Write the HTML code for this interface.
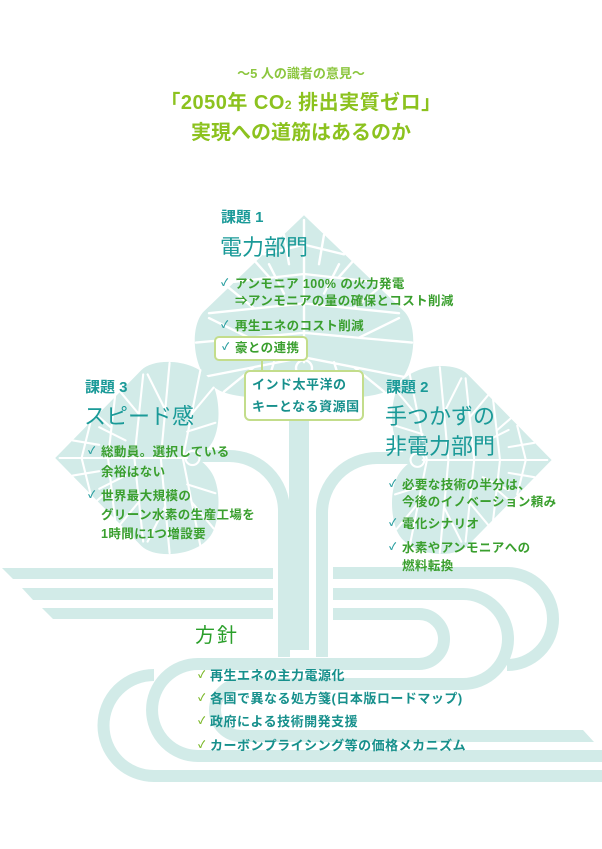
<!DOCTYPE html>
<html><head><meta charset="utf-8"><style>
body{margin:0;width:602px;height:849px;background:#fff;position:relative;overflow:hidden;font-family:"Liberation Sans","Noto Sans CJK JP",sans-serif}
.t{position:absolute;white-space:nowrap;line-height:1}
.g{color:#3a9f2e;font-size:12.5px;font-weight:bold;letter-spacing:0.4px}
.k{color:#1a9a98;font-size:15px;font-weight:bold}
.h{color:#1a9a98;font-size:22px}
.c{color:#2a9fa0;font-size:10px;font-weight:bold}
.p{color:#17908c;font-size:13px;font-weight:bold;letter-spacing:0.5px}
.y{color:#7cb82a;font-size:10px;font-weight:bold}
</style></head><body>
<svg width="602" height="849" style="position:absolute;left:0;top:0">
<defs>
<g id="leaf">
<path d="M0,-160 L100,-62 C116,-46 112,8 82,20 C62,28 30,28 14,16 C6,10 2,4 0,0 C-2,4 -6,10 -14,16 C-30,28 -62,28 -82,20 C-112,8 -116,-46 -100,-62 Z" fill="#d2ebe8"/>
<g stroke="#fff" stroke-width="2.4" fill="none" stroke-linecap="round">
<path d="M0,-10 L0,-155"/>
<path d="M0,-130 L-40,-120 M0,-130 L40,-120"/>
<path d="M0,-100 L-70,-92 M0,-100 L70,-92 M-35,-97 L-55,-120 M35,-97 L55,-120"/>
<path d="M0,-70 L-95,-60 M0,-70 L95,-60 M-50,-65 L-80,-90 M50,-65 L80,-90"/>
<path d="M0,-40 L-108,-30 M0,-40 L108,-30 M-55,-35 L-95,-55 M55,-35 L95,-55"/>
<path d="M0,-15 L-100,5 M0,-15 L100,5 M-50,-5 L-80,20 M50,-5 L80,20 M-30,-10 L-40,22 M30,-10 L40,22"/>
<path d="M-15,-110 L-20,-140 M15,-110 L20,-140 M-20,-80 L-35,-110 M20,-80 L35,-110"/>
<circle cx="0" cy="-4" r="8"/>
</g>
</g>
</defs>
<!-- trunk and branches -->
<rect x="289" y="370" width="20" height="280" fill="#d2ebe8"/>
<g stroke="#d2ebe8" stroke-width="12" fill="none">
<path d="M195,456 L229,456 A55,55 0 0 1 284,511 L284,657"/>
<path d="M418,458 L377,458 A55,55 0 0 0 322,513 L322,657"/>
</g>
<use href="#leaf" transform="translate(304,372) scale(1,0.98)"/>
<use href="#leaf" transform="translate(196,458) rotate(-90) scale(0.88)"/>
<use href="#leaf" transform="translate(414,460) rotate(90) scale(0.86)"/>
<!-- left bands -->
<g fill="#d2ebe8">
<polygon points="2,568 273,568 273,579 13,579"/>
<polygon points="22,588 273,588 273,600 33,600"/>
<polygon points="42,608 273,608 273,619 53,619"/>
<polygon points="583,730 583,742 594,742"/>
</g>
<g stroke="#d2ebe8" stroke-width="12" fill="none">
<path d="M333,573 L507,573 A46,46 0 0 1 507,665"/>
<path d="M154,675 A50.5,50.5 0 0 0 154,776 L602,776"/>
<path d="M333,614 L419,614 A25,25 0 0 1 419,664 L198,664 A46,46 0 0 0 198,756 L602,756"/>
<path d="M333,594 L463,594 A45,45 0 0 1 463,684 L241,684 A26,26 0 0 0 241,736 L583,736"/>
</g>
<!-- boxes -->
<line x1="262" y1="360" x2="262" y2="371" stroke="#c3dd8b" stroke-width="2"/>
<rect x="215" y="337" width="92" height="23" rx="4" fill="#fff" stroke="#c3dd8b" stroke-width="2"/>
<rect x="245" y="371" width="118" height="49" rx="5" fill="#fff" stroke="#c3dd8b" stroke-width="2"/>
</svg>

<div class="t" style="left:0;width:602px;text-align:center;top:67px;font-size:13px;font-weight:bold;color:#8cc63f">～5 人の識者の意見～</div>
<div class="t" style="left:0;width:602px;text-align:center;top:93px;font-size:20px;font-weight:bold;color:#8cc21f;letter-spacing:0.5px">「2050年 CO<span style="font-size:12px">2</span> 排出実質ゼロ」</div>
<div class="t" style="left:0;width:602px;text-align:center;top:123px;font-size:20px;font-weight:bold;color:#8cc21f">実現への道筋はあるのか</div>

<div class="t k" style="left:221px;top:210px">課題 1</div>
<div class="t h" style="left:220px;top:237px">電力部門</div>
<div class="t c" style="left:221px;top:279px">✓</div><div class="t g" style="left:235px;top:278px">アンモニア 100% の火力発電</div>
<div class="t g" style="left:235px;top:295px">⇒アンモニアの量の確保とコスト削減</div>
<div class="t c" style="left:221px;top:321px">✓</div><div class="t g" style="left:235px;top:320px">再生エネのコスト削減</div>
<div class="t c" style="left:222px;top:343px">✓</div><div class="t g" style="left:235px;top:342px">豪との連携</div>
<div class="t p" style="left:252px;top:378px">インド太平洋の</div>
<div class="t p" style="left:252px;top:400px">キーとなる資源国</div>

<div class="t k" style="left:85px;top:380px">課題 3</div>
<div class="t h" style="left:84px;top:406px">スピード感</div>
<div class="t c" style="left:88px;top:447px">✓</div><div class="t g" style="left:101px;top:446px">総動員。選択している</div>
<div class="t g" style="left:101px;top:466px">余裕はない</div>
<div class="t c" style="left:88px;top:491px">✓</div><div class="t g" style="left:101px;top:490px">世界最大規模の</div>
<div class="t g" style="left:101px;top:509px">グリーン水素の生産工場を</div>
<div class="t g" style="left:101px;top:528px">1時間に1つ増設要</div>

<div class="t k" style="left:386px;top:380px">課題 2</div>
<div class="t h" style="left:385px;top:406px">手つかずの</div>
<div class="t h" style="left:385px;top:436px">非電力部門</div>
<div class="t c" style="left:389px;top:480px">✓</div><div class="t g" style="left:402px;top:479px">必要な技術の半分は、</div>
<div class="t g" style="left:402px;top:496px">今後のイノベーション頼み</div>
<div class="t c" style="left:389px;top:519px">✓</div><div class="t g" style="left:402px;top:518px">電化シナリオ</div>
<div class="t c" style="left:389px;top:543px">✓</div><div class="t g" style="left:402px;top:542px">水素やアンモニアへの</div>
<div class="t g" style="left:402px;top:560px">燃料転換</div>

<div class="t" style="left:195px;top:626px;font-size:20px;color:#2a9f2a;letter-spacing:2px">方針</div>
<div class="t y" style="left:198px;top:671px">✓</div><div class="t p" style="left:210px;top:669px">再生エネの主力電源化</div>
<div class="t y" style="left:198px;top:694px">✓</div><div class="t p" style="left:210px;top:692px">各国で異なる処方箋(日本版ロードマップ)</div>
<div class="t y" style="left:198px;top:717px">✓</div><div class="t p" style="left:210px;top:715px">政府による技術開発支援</div>
<div class="t y" style="left:198px;top:741px">✓</div><div class="t p" style="left:210px;top:739px">カーボンプライシング等の価格メカニズム</div>
</body></html>
